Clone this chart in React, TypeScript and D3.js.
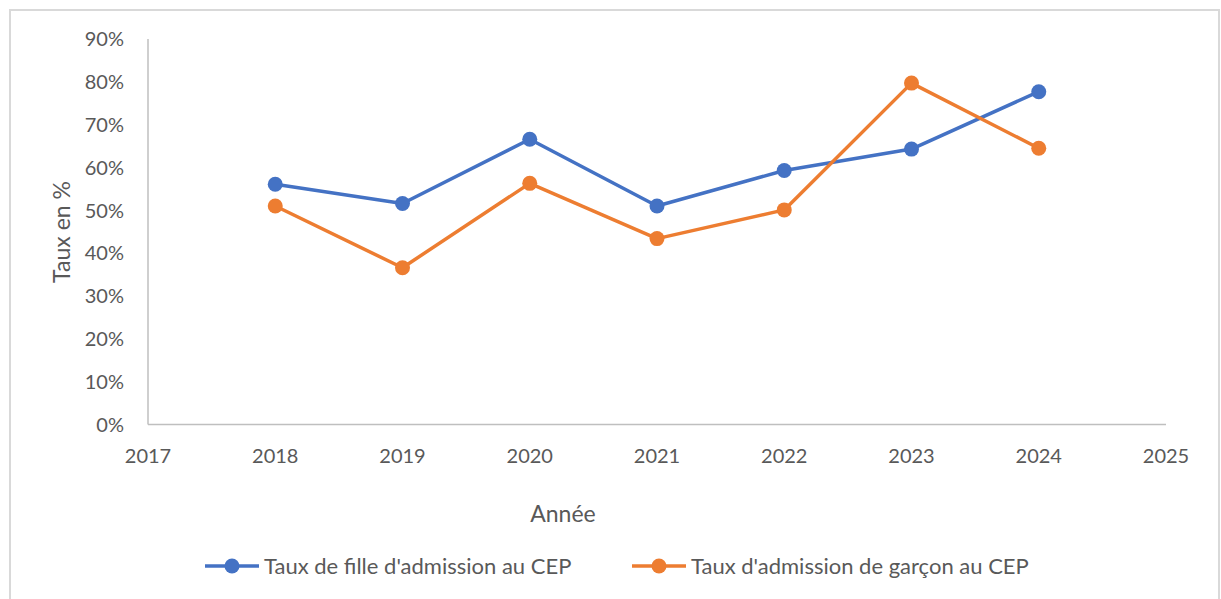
import React from "react";
import * as d3 from "d3";

// values (fractions)
const years = [2018, 2019, 2020, 2021, 2022, 2023, 2024];
const filles = [0.561, 0.516, 0.666, 0.51, 0.593, 0.643, 0.777];
const garcons = [0.51, 0.366, 0.563, 0.434, 0.501, 0.797, 0.645];
const xTicks = [2017, 2018, 2019, 2020, 2021, 2022, 2023, 2024, 2025];
const yTicks = [0, 0.1, 0.2, 0.3, 0.4, 0.5, 0.6, 0.7, 0.8, 0.9];
const seriesNames = [
  "Taux de fille d'admission au CEP",
  "Taux d'admission de garçon au CEP",
];
const colors = ["#4472C4", "#ED7D31"];

const W = 1221;
const H = 599;
const font = "Lato, 'Open Sans', sans-serif";
const textColor = "#595959";

const App = () => {
  const x = d3.scaleLinear().domain([2017, 2025]).range([148, 1166]);
  const y = d3.scaleLinear().domain([0, 0.9]).range([424.5, 39]);
  const fmt = d3.format(".0%");
  const line = d3
    .line<[number, number]>()
    .x((d) => x(d[0]))
    .y((d) => y(d[1]));

  const series = [filles, garcons].map((vals) =>
    years.map((yr, i) => [yr, vals[i]] as [number, number])
  );

  const legendX = [205, 632];
  const legendY = 566;

  return (
    <div style={{ position: "absolute", left: 0, top: 0 }}>
      <svg width={W} height={H} style={{ display: "block", background: "#fff" }}>
        <rect x={10} y={10} width={1209} height={600} fill="#fff" stroke="#d9d9d9" strokeWidth={2} />

        {/* axes */}
        <line x1={x(2017)} x2={x(2017)} y1={y(0.9)} y2={y(0)} stroke="#bfbfbf" strokeWidth={1.5} />
        <line x1={x(2017)} x2={x(2025)} y1={y(0)} y2={y(0)} stroke="#bfbfbf" strokeWidth={1.5} />

        {yTicks.map((t) => (
          <text
            key={t}
            x={124}
            y={y(t)}
            dy="0.36em"
            textAnchor="end"
            fontFamily={font}
            fontSize={20}
            fill={textColor}
          >
            {fmt(t)}
          </text>
        ))}
        {xTicks.map((t) => (
          <text
            key={t}
            x={x(t)}
            y={463}
            textAnchor="middle"
            fontFamily={font}
            fontSize={20}
            fill={textColor}
          >
            {t}
          </text>
        ))}

        <text
          transform={`translate(70,232) rotate(-90)`}
          textAnchor="middle"
          fontFamily={font}
          fontSize={23}
          fill={textColor}
        >
          Taux en %
        </text>
        <text x={563} y={521.5} textAnchor="middle" fontFamily={font} fontSize={23} fill={textColor}>
          Année
        </text>

        {series.map((s, si) => (
          <g key={si}>
            <path d={line(s) || ""} fill="none" stroke={colors[si]} strokeWidth={3.5} strokeLinejoin="round" />
            {s.map((d, i) => (
              <circle key={i} cx={x(d[0])} cy={y(d[1])} r={7.5} fill={colors[si]} />
            ))}
          </g>
        ))}

        {/* legend */}
        {seriesNames.map((name, i) => (
          <g key={name} transform={`translate(${legendX[i]},${legendY})`}>
            <line x1={0} x2={54} y1={0} y2={0} stroke={colors[i]} strokeWidth={3.5} />
            <circle cx={27} cy={0} r={7.5} fill={colors[i]} />
            <text x={59} y={0} dy="0.36em" fontFamily={font} fontSize={22} fill={textColor}>
              {name}
            </text>
          </g>
        ))}
      </svg>
    </div>
  );
};

export default App;
